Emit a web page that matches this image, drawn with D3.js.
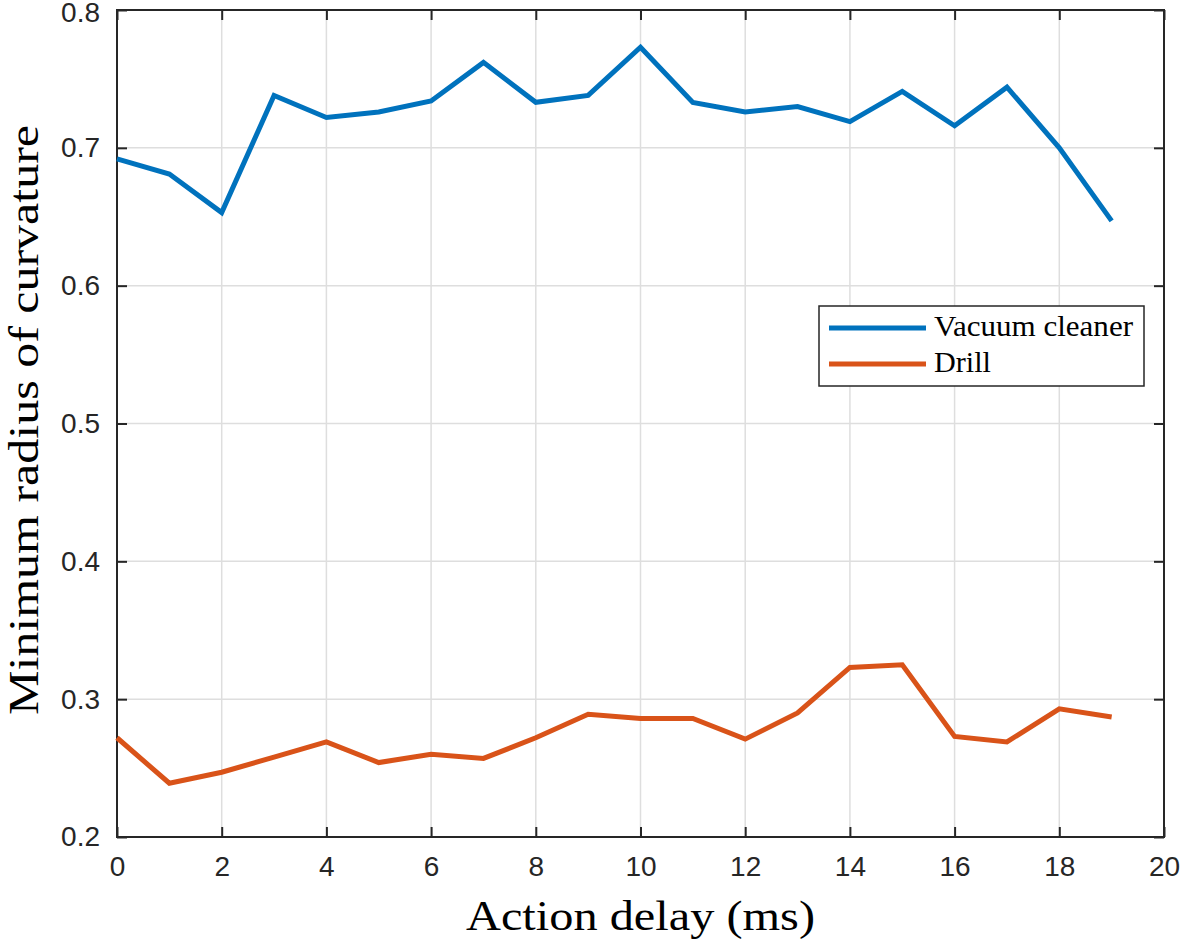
<!DOCTYPE html>
<html><head><meta charset="utf-8">
<script src="https://cdn.jsdelivr.net/npm/d3@7"></script>
<style>body{margin:0;background:#fff}svg{display:block}</style>
</head><body>
<svg id="chart" width="1181" height="943"></svg>
<script>
const delays = [0,1,2,3,4,5,6,7,8,9,10,11,12,13,14,15,16,17,18,19];
const vacuum = [0.692,0.681,0.653,0.738,0.722,0.726,0.734,0.762,0.733,0.738,0.773,0.733,0.726,0.730,0.719,0.741,0.716,0.744,0.700,0.647];
const drill  = [0.272,0.239,0.247,0.258,0.269,0.254,0.260,0.257,0.272,0.289,0.286,0.286,0.271,0.290,0.323,0.325,0.273,0.269,0.293,0.287];
const xTicks = [0,2,4,6,8,10,12,14,16,18,20];
const yTicks = [0.2,0.3,0.4,0.5,0.6,0.7,0.8];
const seriesNames = ["Vacuum cleaner","Drill"];
const colors = ["#0072BD","#D95319"];

const svg = d3.select("#chart");
const L=117, R=1164, T=10, B=837;
const x = d3.scaleLinear().domain([0,20]).range([L,R]);
const y = d3.scaleLinear().domain([0.2,0.8]).range([B,T]);
const axisCol = "#262626";
const tickFont = "'Liberation Sans', Arial, sans-serif";
const serif = "'Liberation Serif', 'Times New Roman', serif";

// grid
const g = svg.append("g");
g.selectAll(".gx").data(xTicks.slice(1,-1)).enter().append("line")
 .attr("x1",d=>x(d)).attr("x2",d=>x(d)).attr("y1",T).attr("y2",B)
 .attr("stroke","#dedede").attr("stroke-width",1.5);
g.selectAll(".gy").data(yTicks.slice(1,-1)).enter().append("line")
 .attr("y1",d=>y(d)).attr("y2",d=>y(d)).attr("x1",L).attr("x2",R)
 .attr("stroke","#dedede").attr("stroke-width",1.5);

// axes
const xb = d3.axisBottom(x).tickValues(xTicks).tickSizeInner(-10).tickSizeOuter(0).tickPadding(19).tickFormat(d3.format("d"));
const yl = d3.axisLeft(y).tickValues(yTicks).tickSizeInner(-10).tickSizeOuter(0).tickPadding(17).tickFormat(d3.format(".1f"));
const xt = d3.axisTop(x).tickValues(xTicks).tickSizeInner(-10).tickSizeOuter(0).tickFormat("");
const yr = d3.axisRight(y).tickValues(yTicks).tickSizeInner(-10).tickSizeOuter(0).tickFormat("");
function style(sel){
  sel.select(".domain").remove();
  sel.selectAll("line").attr("stroke",axisCol).attr("stroke-width",2);
  sel.selectAll("text").attr("fill",axisCol).style("font-family",tickFont).style("font-size","28px");
}
svg.append("g").attr("transform",`translate(0,${B})`).call(xb).call(style);
const yAxisG = svg.append("g").attr("transform",`translate(${L},0)`).call(yl).call(style);
// keep the topmost tick label fully inside the page
yAxisG.selectAll(".tick text").filter(d=>d===0.8).attr("dy","0.42em");
svg.append("g").attr("transform",`translate(0,${T})`).call(xt).call(style);
svg.append("g").attr("transform",`translate(${R},0)`).call(yr).call(style);
svg.append("rect").attr("x",L).attr("y",T).attr("width",R-L).attr("height",B-T)
 .attr("fill","none").attr("stroke",axisCol).attr("stroke-width",2);

// lines
const line = d3.line().x((d,i)=>x(delays[i])).y(d=>y(d));
[vacuum,drill].forEach((s,k)=>{
  svg.append("path").datum(s).attr("d",line).attr("fill","none")
   .attr("stroke",colors[k]).attr("stroke-width",5).attr("stroke-linejoin","miter");
});

// legend
const lg = svg.append("g");
lg.append("rect").attr("x",819).attr("y",306).attr("width",325).attr("height",80)
 .attr("fill","#fff").attr("stroke",axisCol).attr("stroke-width",1.5);
const legLens = [199,57];
seriesNames.forEach((n,k)=>{
  const yy = 328 + k*36;
  lg.append("line").attr("x1",829).attr("x2",926).attr("y1",yy).attr("y2",yy)
   .attr("stroke",colors[k]).attr("stroke-width",5);
  lg.append("text").attr("x",934).attr("y",yy+8).text(n)
   .attr("textLength",legLens[k]).attr("lengthAdjust","spacingAndGlyphs")
   .style("font-family",serif).style("font-size","29px").attr("fill","#000");
});

// axis labels
svg.append("text").attr("x",640.5).attr("y",930).attr("text-anchor","middle")
 .attr("textLength",349).attr("lengthAdjust","spacingAndGlyphs")
 .text("Action delay (ms)").style("font-family",serif).style("font-size","42px").attr("fill","#000");
svg.append("text").attr("transform",`translate(38,420) rotate(-90)`).attr("text-anchor","middle")
 .attr("textLength",590).attr("lengthAdjust","spacingAndGlyphs")
 .text("Minimum radius of curvature").style("font-family",serif).style("font-size","42px").attr("fill","#000");
</script>
</body></html>
